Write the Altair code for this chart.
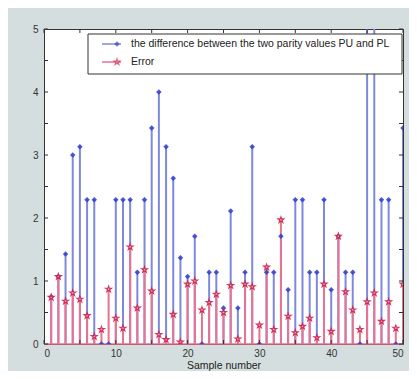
import altair as alt
import pandas as pd

samples = list(range(1, 51))
difference = [0.75, 1.07, 1.43, 3.0, 3.13, 2.29, 2.29, 0, 0, 2.29,
              2.29, 2.29, 1.14, 2.29, 3.43, 4.0, 3.13, 2.63, 1.37, 1.07,
              1.71, 0, 1.14, 1.14, 0.57, 2.11, 0.57, 1.14, 3.13, 0,
              1.14, 1.14, 1.71, 0.86, 2.29, 2.29, 1.14, 1.14, 2.29, 0.86,
              1.71, 1.14, 1.14, 0, 5.71, 5.71, 2.29, 2.29, 0, 3.43]
error = [0.74, 1.07, 0.68, 0.81, 0.71, 0.45, 0.12, 0.23, 0.87, 0.41,
         0.25, 1.54, 0.57, 1.18, 0.84, 0.15, 0.07, 0.47, 0.03, 0.95,
         1.0, 0.54, 0.66, 0.79, 0.5, 0.93, 0.08, 0.95, 0.91, 0.30,
         1.22, 0.23, 1.97, 0.44, 0.18, 0.28, 0.41, 0.10, 0.95, 0.2,
         1.71, 0.83, 0.54, 0.23, 0.67, 0.81, 0.36, 0.67, 0.25, 0.95]
series_labels = ["the difference between the two parity values PU and PL", "Error"]
x_ticks = [0, 5, 10, 15, 20, 25, 30, 35, 40, 45, 50]
y_ticks = [0, 0.5, 1, 1.5, 2, 2.5, 3, 3.5, 4, 4.5, 5]

W, H = 359, 315
FONT = "Liberation Sans"
BLUE_STEM = "#7f89dc"
BLUE_MARK = "#3441d2"
RED_STEM = "#e8728f"
RED_MARK = "#d0204c"
STAR = ("M0,-1L0.225,-0.309L0.951,-0.309L0.363,0.118L0.588,0.809L0,0.382"
        "L-0.588,0.809L-0.363,0.118L-0.951,-0.309L-0.225,-0.309Z")

df_d = pd.DataFrame({"sample": samples, "value": difference})
df_e = pd.DataFrame({"sample": samples, "value": error})

xs = alt.Scale(domain=[0, 50], nice=False, zero=False)
ys = alt.Scale(domain=[0, 5], nice=False)

x_axis = alt.Axis(
    values=x_ticks, ticks=False, domain=False, grid=False, labelFont=FONT,
    labelFontSize=10, labelColor="#333", labelPadding=4, title="Sample number",
    titleFont=FONT, titleFontSize=10.5, titleFontWeight="normal", titleColor="#222",
    titlePadding=2, labelOverlap=False)
y_axis = alt.Axis(
    values=y_ticks, ticks=False, domain=False, grid=False, labelFont=FONT,
    labelFontSize=10, labelColor="#333", labelPadding=6, title=None,
    labelExpr="'' + datum.value", labelOverlap=False)

blue_stems = alt.Chart(df_d).mark_rule(color=BLUE_STEM, strokeWidth=2, clip=True).encode(
    x=alt.X("sample:Q", scale=xs, axis=x_axis),
    y=alt.Y("value:Q", scale=ys, axis=y_axis),
    y2=alt.datum(0))
red_stems = alt.Chart(df_e).mark_rule(color=RED_STEM, strokeWidth=2, clip=True).encode(
    x=alt.X("sample:Q"), y=alt.Y("value:Q"), y2=alt.datum(0))
baseline = alt.Chart(df_e.head(1)).mark_rule(color=RED_STEM, strokeWidth=1.5).encode(
    y=alt.datum(0), x=alt.value(0), x2=alt.value(W))
blue_pts = alt.Chart(df_d).mark_point(shape="diamond", filled=True, color=BLUE_MARK,
                                      size=30, opacity=0.9, clip=True).encode(
    x=alt.X("sample:Q"), y=alt.Y("value:Q"))
red_pts = alt.Chart(df_e).mark_point(shape=STAR, filled=False, stroke=RED_MARK,
                                     fill="#f2b0c0", strokeWidth=1.1, size=40,
                                     opacity=0.9, clip=True).encode(
    x=alt.X("sample:Q"), y=alt.Y("value:Q"))

# inward MATLAB-style ticks on all four sides
df_xt = pd.DataFrame({"sample": x_ticks})
df_yt = pd.DataFrame({"value": y_ticks})
tick_col = "#333"
xt_bottom = alt.Chart(df_xt).mark_rule(color=tick_col, strokeWidth=1).encode(
    x=alt.X("sample:Q"), y=alt.value(H), y2=alt.value(H - 4))
xt_top = alt.Chart(df_xt).mark_rule(color=tick_col, strokeWidth=1).encode(
    x=alt.X("sample:Q"), y=alt.value(0), y2=alt.value(4))
yt_left = alt.Chart(df_yt).mark_rule(color=tick_col, strokeWidth=1).encode(
    y=alt.Y("value:Q"), x=alt.value(0), x2=alt.value(4))
yt_right = alt.Chart(df_yt).mark_rule(color=tick_col, strokeWidth=1).encode(
    y=alt.Y("value:Q"), x=alt.value(W), x2=alt.value(W - 4))

# legend box
box = alt.Chart(pd.DataFrame({"label": series_labels[:1]})).mark_rect(
    fill="white", stroke="#333", strokeWidth=1).encode(
    x=alt.value(44), x2=alt.value(358), y=alt.value(5), y2=alt.value(45))
leg_layers = []
for i, (lab, sc, mc) in enumerate([(series_labels[0], BLUE_STEM, BLUE_MARK),
                                   (series_labels[1], RED_STEM, RED_MARK)]):
    yy = 15 + 18 * i
    d = pd.DataFrame({"label": [lab]})
    leg_layers.append(alt.Chart(d).mark_rule(color=sc, strokeWidth=1.5).encode(
        x=alt.value(58), x2=alt.value(77), y=alt.value(yy)))
    if i == 0:
        leg_layers.append(alt.Chart(d).mark_point(shape="diamond", filled=True, color=mc,
                                                  size=30).encode(
            x=alt.value(73), y=alt.value(yy)))
    else:
        leg_layers.append(alt.Chart(d).mark_point(shape=STAR, filled=False, stroke=mc,
                                                  fill="#f2b0c0", strokeWidth=1.1,
                                                  size=40).encode(
            x=alt.value(73), y=alt.value(yy)))
    leg_layers.append(alt.Chart(d).mark_text(align="left", baseline="middle", font=FONT,
                                             fontSize=10.5, color="#222").encode(
        x=alt.value(87), y=alt.value(yy), text="label:N"))

chart = alt.layer(
    blue_stems, red_stems, baseline, blue_pts, red_pts,
    xt_bottom, xt_top, yt_left, yt_right,
    box, *leg_layers
).properties(
    width=W, height=H,
    autosize=alt.AutoSizeParams(type="none"),
    padding={"left": 36, "top": 21, "right": 6, "bottom": 27},
    background="#d5dede",
).configure_view(
    fill="white", stroke="#333", strokeWidth=1
)

chart.save("out.html", embed_options={"renderer": "svg", "actions": False})
